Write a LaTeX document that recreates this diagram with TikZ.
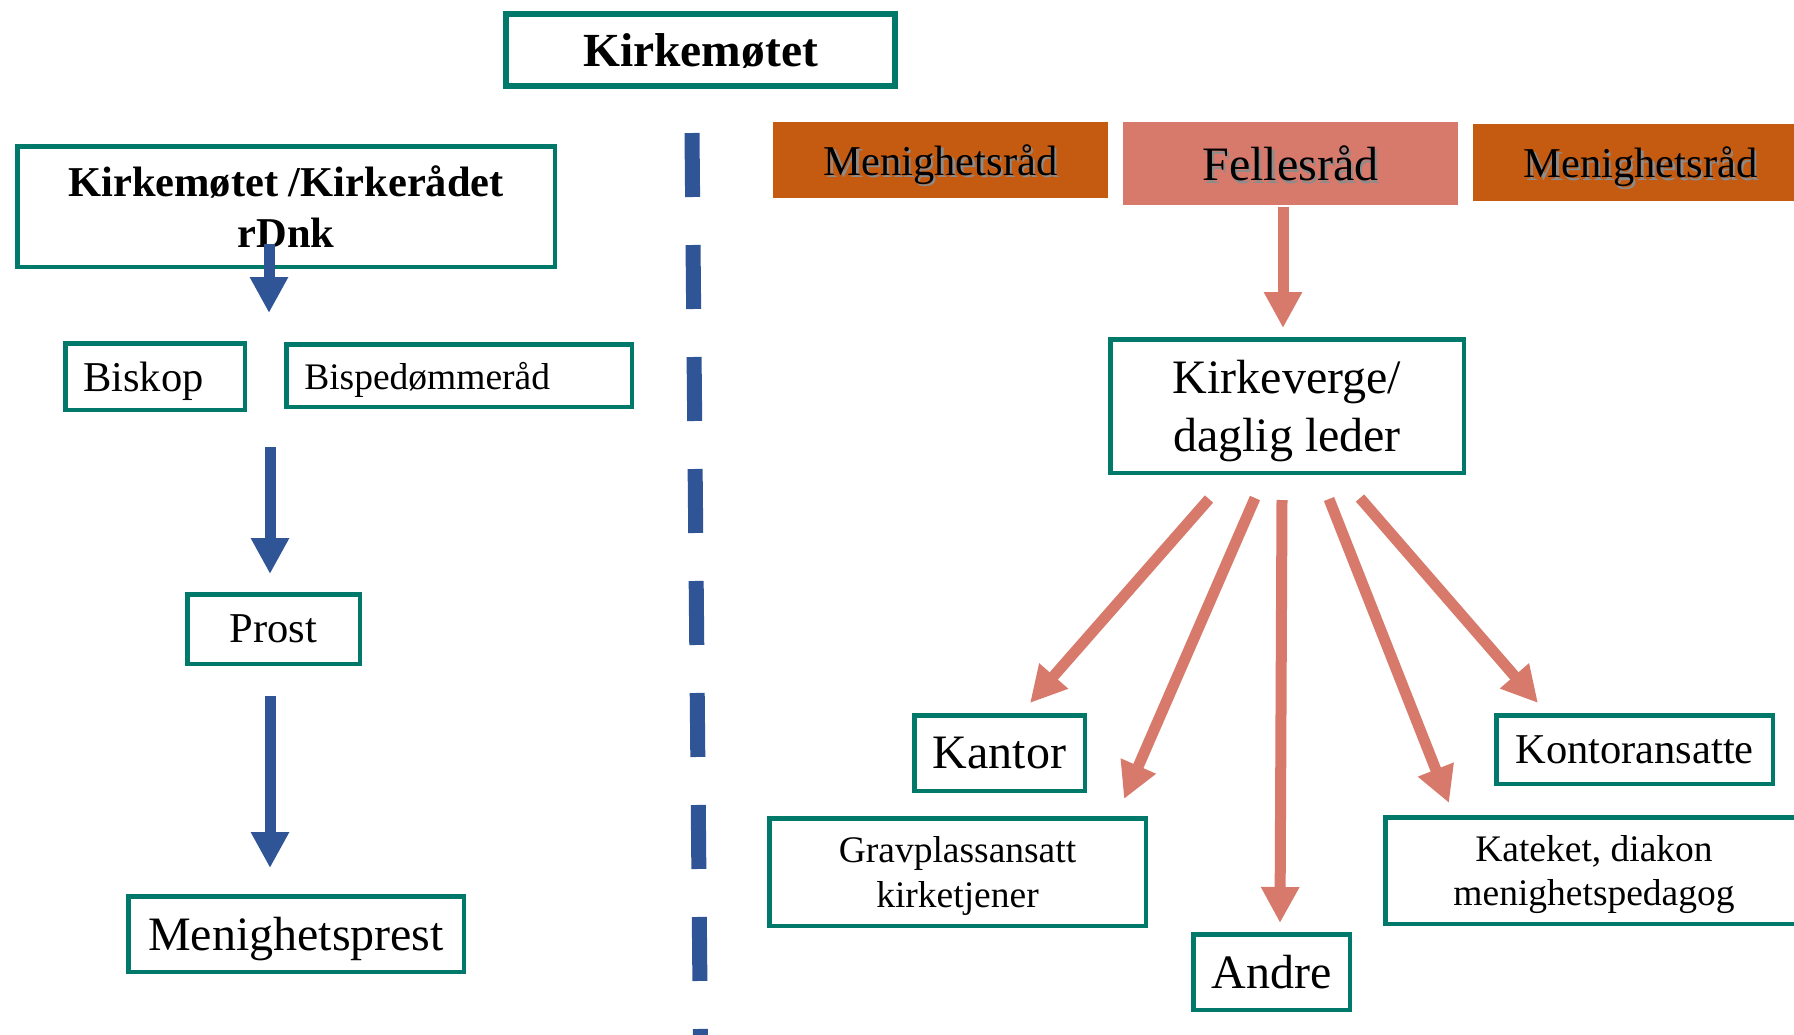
\documentclass[tikz,border=0pt]{standalone}
\usepackage{fontspec}
\setmainfont{Liberation Serif}
\usetikzlibrary{arrows.meta}
\definecolor{kgreen}{HTML}{00786A}
\definecolor{kblue}{HTML}{2F5597}
\definecolor{korange}{HTML}{C55A11}
\definecolor{kpink}{HTML}{D77A6B}
\newcommand\shd[1]{\makebox[0pt][l]{\hspace{1.2pt}\raisebox{-1.2pt}{\color{black!45}#1}}#1}
\begin{document}
\begin{tikzpicture}[x=0.5pt,y=-0.5pt,>={Triangle[width=18pt,length=18pt]},
	box/.style={draw=kgreen,line width=2.25pt,fill=white,inner sep=0pt,align=center,text depth=0pt},
	council/.style={inner sep=0pt,align=center,text depth=0pt},
	fs/.style={font=\fontsize{18.75pt}{22.3pt}\selectfont},
	fm/.style={font=\fontsize{21.25pt}{25.7pt}\selectfont},
	fl/.style={font=\fontsize{24pt}{29pt}\selectfont},
	bluearrow/.style={->,draw=kblue,line width=5.5pt},
	pinkarrow/.style={->,draw=kpink,line width=5.5pt}]
	\useasboundingbox (0,0) rectangle (1794,1034);
	\clip (0,0) rectangle (1794,1034);
	\node[box,line width=3pt,minimum width=194.5pt,minimum height=36pt,font=\fontsize{23.75pt}{28pt}\selectfont\bfseries] (km) at (700.5,50) {Kirkemøtet};
	\node[box,minimum width=268.75pt,minimum height=60.25pt,font=\fontsize{21.25pt}{25.7pt}\selectfont\bfseries] (rdnk) at (286,206.5) {Kirkemøtet /Kirkerådet\\rDnk};
	\node[box,fm,align=left,inner xsep=9pt,text width=71.75pt,minimum height=33.25pt] (biskop) at (155,376.5) {Biskop};
	\node[box,fs,align=left,inner xsep=9pt,text width=154.75pt,minimum height=31.25pt] (bisp) at (459,375.5) {Bispedømmeråd};
	\node[box,fm,minimum width=86.25pt,minimum height=34.75pt] (prost) at (273.5,629) {Prost};
	\node[box,fl,minimum width=167.75pt,minimum height=37.75pt] (mprest) at (296,934) {Menighetsprest};
	\node[council,fm,fill=korange,minimum width=167.5pt,minimum height=38pt] (menL) at (940.5,160) {\shd{Menighetsråd}};
	\node[council,fl,fill=kpink,minimum width=167.5pt,minimum height=41.5pt] (felles) at (1290.5,163.5) {\shd{Fellesråd}};
	\node[council,fm,fill=korange,minimum width=167.5pt,minimum height=38.5pt] (menR) at (1640.5,162.5) {\shd{Menighetsråd}};
	\node[box,fl,minimum width=176.75pt,minimum height=66.75pt] (kverge) at (1287,406) {Kirkeverge/\\daglig leder};
	\node[box,fl,minimum width=85.25pt,minimum height=37.75pt] (kantor) at (999.5,753) {Kantor};
	\node[box,fs,minimum width=188.25pt,minimum height=53.75pt] (grav) at (957.5,872) {Gravplassansatt\\kirketjener};
	\node[box,fl,minimum width=78.25pt,minimum height=37.75pt] (andre) at (1271.5,972) {Andre};
	\node[box,fm,minimum width=138.25pt,minimum height=34.25pt] (konto) at (1634.5,749.5) {Kontoransatte};
	\node[box,fs,minimum width=208.75pt,minimum height=53.25pt] (kateket) at (1594,870.5) {Kateket, diakon\\menighetspedagog};
	\path (692,133) coordinate (dtop) (701,1100) coordinate (dbot);
	\path (269,244) coordinate (b1s) (269,313) coordinate (b1e);
	\path (270,447) coordinate (b2s) (270,574) coordinate (b2e);
	\path (270,696) coordinate (b3s) (270,868) coordinate (b3e);
	\path (1283,207) coordinate (p0s) (1283,328) coordinate (p0e);
	\path (1209,499) coordinate (f1s) (1030,703) coordinate (f1e);
	\path (1255,498) coordinate (f2s) (1124,799) coordinate (f2e);
	\path (1282,500) coordinate (f3s) (1280,923) coordinate (f3e);
	\path (1329,499) coordinate (f4s) (1449,803) coordinate (f4e);
	\path (1360,498) coordinate (f5s) (1538,703) coordinate (f5e);
	\draw[kblue,line width=7.5pt,dash pattern=on 32pt off 24pt] (dtop) -- (dbot);
	\draw[bluearrow] (b1s) -- (b1e);
	\draw[bluearrow] (b2s) -- (b2e);
	\draw[bluearrow] (b3s) -- (b3e);
	\draw[pinkarrow] (p0s) -- (p0e);
	\draw[pinkarrow] (f1s) -- (f1e);
	\draw[pinkarrow] (f2s) -- (f2e);
	\draw[pinkarrow] (f3s) -- (f3e);
	\draw[pinkarrow] (f4s) -- (f4e);
	\draw[pinkarrow] (f5s) -- (f5e);
\end{tikzpicture}
\end{document}
